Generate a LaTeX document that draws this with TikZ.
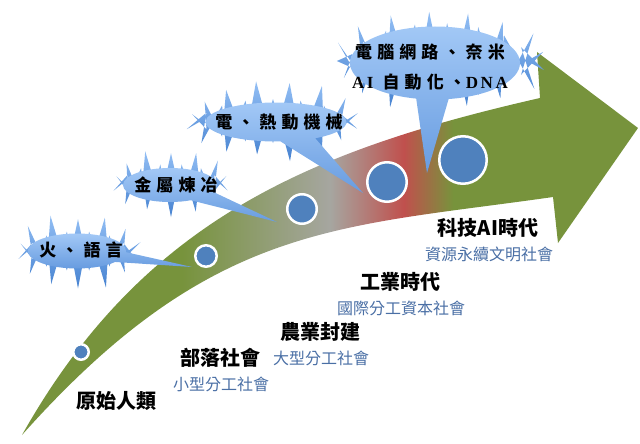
\documentclass[tikz,border=0pt]{standalone}
\usepackage{fontspec}
\usetikzlibrary{calc,shapes.callouts}
\newfontfamily\cjk{Noto Sans CJK TC}
\newfontfamily\cjkwide[LetterSpace=30]{Noto Sans CJK TC}
\newfontfamily\latinwide[LetterSpace=15]{Liberation Serif}
\definecolor{arrowgreen}{RGB}{119,147,60}
\definecolor{arrowgray}{RGB}{166,166,160}
\definecolor{arrowred}{RGB}{192,80,77}
\definecolor{dotblue}{RGB}{79,129,189}
\definecolor{subblue}{RGB}{74,111,165}
\definecolor{burstlight}{RGB}{146,190,244}
\definecolor{burstdark}{RGB}{70,130,208}
\definecolor{glowlight}{RGB}{162,200,246}
\definecolor{glowdark}{RGB}{104,156,224}
\pgfdeclarehorizontalshading{ageshade}{100bp}{color(0bp)=(arrowgreen); color(38bp)=(arrowgreen); color(50bp)=(arrowgray); color(56bp)=(arrowred); color(60bp)=(arrowgreen); color(100bp)=(arrowgreen)}

\begin{document}
\begin{tikzpicture}[x=1pt,y=-1pt,
  dot/.style={circle,fill=dotblue,draw=white,line width=2.5pt,inner sep=0pt},
  burstfill/.style={top color=burstlight,bottom color=burstdark,draw=none},
  glow/.style={ellipse callout,top color=glowlight,bottom color=glowdark,
    draw=none,inner sep=0pt},
  bursttext/.style={font=\cjkwide\bfseries\fontsize{17}{30}\selectfont,align=center,inner sep=0pt},
  era/.style={font=\cjk\bfseries\fontsize{20}{24}\selectfont,inner sep=0pt},
  soc/.style={font=\cjk\fontsize{16}{20}\selectfont,text=subblue,inner sep=0pt}]
  \useasboundingbox (0,0) rectangle (640,444);
  % the arrow
  \path[shading=ageshade] (22,435) .. controls (142,222) and (307,151) .. (540,98)
    -- (537,52) -- (638,128) -- (558,243) -- (553,197)
    .. controls (337,228) and (212,222) .. cycle;
  % milestones
  \foreach \n/\x/\y/\d in {1/81/352/15.5,2/206/256/21.5,3/302/209/29.5,4/387/182/39.5,5/463/160/47.5}{
    \node[dot,minimum size=\d pt] (c\n) at (\x,\y) {};
  }
  \coordinate (tip1) at ($(c2)+(-14,11)$);
  \coordinate (tip2) at ($(c3)+(-25,13)$);
  \coordinate (tip3) at ($(c4)+(-24,11)$);
  \coordinate (tip4) at ($(c5)+(-36,13)$);
  % bursts
  \coordinate (b1) at (78,251);
  \coordinate (b2) at (171,183);
  \coordinate (b3) at (273,121);
  \coordinate (b4) at (439,61);
  \foreach \b/\n/\ia/\ib/\oa/\ob/\s in {b1/14/50/20/64/40/3,b2/14/48/19/60/36/8,b3/16/72/22/88/42/21,b4/17/88/38/112/53/5}{
    \pgfmathsetseed{\s}
    \path[burstfill] ([shift={(\b)}]0:\ia pt and \ib pt)
      \foreach \k [evaluate=\k as \f using 0.55+0.5*rnd,
                   evaluate=\k as \ta using (\k-0.5)*360/\n,
                   evaluate=\k as \ba using \k*360/\n] in {1,...,\n}{
        -- ([shift={(\b)}]\ta:{\ia+(\oa-\ia)*\f} and {\ib+(\ob-\ib)*\f})
        -- ([shift={(\b)}]\ba:\ia pt and \ib pt)
      } -- cycle;
  }
  \node[glow,minimum width=98pt,minimum height=35pt,callout pointer arc=35,callout absolute pointer=(tip1)] (g1) at (77,251) {};
  \node[bursttext] (t1) at (81,250) {火、語言};
  \node[glow,minimum width=94pt,minimum height=34pt,callout pointer arc=40,callout absolute pointer=(tip2)] (g2) at (170,185) {};
  \node[bursttext] (t2) at (176,185) {金屬煉冶};
  \node[glow,minimum width=141pt,minimum height=39pt,callout pointer arc=30,callout absolute pointer=(tip3)] (g3) at (276,122) {};
  \node[bursttext] (t3) at (279,122) {電、熱動機械};
  \node[glow,minimum width=170pt,minimum height=73pt,callout pointer arc=22,callout absolute pointer=(tip4)] (g4) at (435,63) {};
  \node[bursttext] (t4) at (430,67) {電腦網路、奈米\\{\latinwide AI}~自動化、{\latinwide DNA}};
  % eras
  \foreach \n/\x/\y/\t in {e1/116/401/原始人類,e2/220/358/部落社會,e3/320/332/農業封建,e4/400/282/工業時代,e5/488/228/科技AI時代}{
    \node[era] (\n) at (\x,\y) {\t};
  }
  \foreach \n/\t in {e2/小型分工社會,e3/大型分工社會,e4/國際分工資本社會,e5/資源永續文明社會}{
    \node[soc] (s\n) at ($(\n)+(1,26)$) {\t};
  }
\end{tikzpicture}
\end{document}
